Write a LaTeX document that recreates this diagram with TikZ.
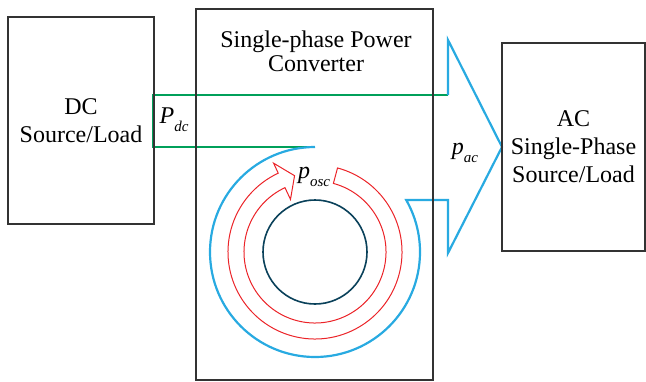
\documentclass[tikz,border=0pt]{standalone}
\usepackage{fontspec}
\setmainfont{Liberation Serif}
\usetikzlibrary{positioning}
\definecolor{pwrgreen}{RGB}{0,160,90}
\definecolor{pwrblue}{RGB}{40,170,225}
\definecolor{oscred}{RGB}{235,35,40}
\definecolor{capteal}{RGB}{10,65,90}
\newcommand{\pwr}[2]{\textit{#1}\raisebox{-0.7ex}{\fontsize{7.5}{8}\selectfont\textit{#2}}}

\begin{document}
\begin{tikzpicture}[x=0.5pt, y=0.5pt,
    block/.style={rectangle, draw=black!80, line width=0.75pt, font=\rmfamily\fontsize{12}{14}\selectfont, align=center, inner sep=0pt},
    sym/.style={font=\rmfamily\fontsize{12}{14}\selectfont, inner sep=0pt},
    dcflow/.style={draw=pwrgreen, line width=1.2pt},
    acflow/.style={draw=pwrblue, line width=1.1pt},
    oscflow/.style={draw=oscred, line width=0.5pt}
]
    \useasboundingbox (0,0) rectangle (646,381);

    \coordinate (osc) at (315,129);
    \coordinate (gtop) at (448,286);
    \coordinate (gleft) at (153,286);
    \coordinate (gbot) at (153,234);
    \coordinate (gend) at (315,234);
    \coordinate (bnotch) at (448,181);
    \coordinate (blow) at (448,128);
    \coordinate (btip) at (502,234);
    \coordinate (bhigh) at (448,341);

    % dc power path
    \draw[dcflow] (gtop) -- (gleft) -- (gbot) -- (gend);
    % ac power path
    \draw[acflow] (gend) arc[start angle=90, end angle=389.7, radius=105]
        -- (bnotch) -- (blow) -- (btip) -- (bhigh) -- (gtop);
    % oscillating power
    \draw[oscflow] ([shift={(75:87)}]osc) arc[start angle=75, end angle=-245, radius=87]
        -- ([shift={(115:98)}]osc) -- ([shift={(105:79)}]osc) -- ([shift={(115:58)}]osc)
        -- ([shift={(115:71)}]osc) arc[start angle=115, end angle=435, radius=71] -- cycle;
    \draw[capteal, line width=0.8pt] (osc) circle[radius=52];

    \node[block, minimum width=73pt, minimum height=103.5pt] (dc) at (81,260.5) {DC\\Source/Load};
    \node[block, minimum width=118.5pt, minimum height=185.5pt] (conv) at (314.5,186.5) {};
    \node[block, minimum width=71.5pt, minimum height=104pt] (ac) at (573.5,234) {AC\\Single-Phase\\Source/Load};
    \node[sym, align=center, font=\rmfamily\fontsize{12}{12}\selectfont] (title) at (316,330) {Single-phase Power\\Converter};

    \node[sym] (pdc) at (174,261) {\pwr{P}{dc}};
    \node[sym] (posc) at (314,204) {\pwr{p}{osc}};
    \node[sym] (pac) at (465,228) {\pwr{p}{ac}};
\end{tikzpicture}
\end{document}
